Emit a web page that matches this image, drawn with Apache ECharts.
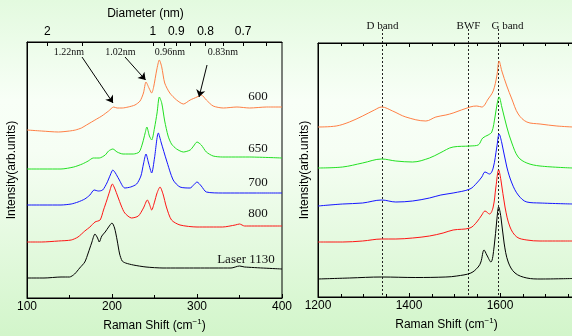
<!DOCTYPE html>
<html>
<head>
<meta charset="utf-8">
<script src="https://cdn.jsdelivr.net/npm/echarts@6/dist/echarts.min.js"></script>
<style>
  html, body { margin: 0; padding: 0; }
  #chart { width: 572px; height: 336px; }
</style>
</head>
<body>
<div id="chart"></div>
<script>
// RBM region (left panel), [raman shift, intensity]
var rbm600 = [[100,168],[117,167],[137,166],[150,167],[157,168],[164,170],[170,173],[176,176],[182,179],[188,182],[196,187],[202,191],[206,190],[212,190],[219,191],[227,193],[233,197],[237,205],[240,216],[243.5,210],[246.7,205],[249,211],[252.6,228],[255.7,238],[258.5,231],[262,215],[268,205],[276,198],[284,194],[292,198],[300,201],[305,203],[311,198],[319,192],[331,190],[347,191],[362,190],[382,191],[400,191]];
var rbm650 = [[100,129],[120,129],[140,129],[155,131],[165,134],[172,137],[178,140],[185,140],[192,143],[196,147],[201,149],[206,146],[213,144],[225,144],[232,146],[236,155],[239,165],[241,171],[244,162],[246.7,158],[250,170],[253,185],[255.7,201],[258.5,195],[262,177],[266,162],[270,154],[276,149],[284,146],[292,148],[296,152],[300,156],[305,153],[311,146],[319,142],[330,141],[360,141],[400,140]];
var rbm700 = [[100,93],[120,93],[140,93],[152,94],[160,96],[168,99],[174,103],[179,108],[184,107],[189,108],[194,115],[198,123],[201,128],[204,125],[208,119],[215,110],[222,111],[229,114],[234,122],[237,134],[240,144],[243,135],[246.7,125],[250,140],[254.5,165],[258,155],[264,138],[272,118],[280,111],[292,110],[296,113],[300,116],[305,112],[311,106],[330,105],[370,105],[400,105]];
var rbm800 = [[100,56],[117,56],[137,57],[152,58],[160,61],[168,67],[174,71],[180,76],[186,78],[190,88],[194,98],[197,106],[200.4,114],[203,110],[207,101],[211,92],[215,85],[223,80],[231,82],[237,90],[241.6,98],[244,94],[246.7,88],[250,96],[253,105],[256.5,111],[260,104],[264,91],[270,78],[280,73],[300,71],[330,71],[345,73],[350,74],[356,72],[400,72]];
var rbm1130 = [[100,20],[120,20],[140,21],[150,21],[156,24],[162,30],[168,36],[172,45],[176,55],[180,64],[183,60],[185,56],[188,62],[192,66],[196,71],[200,75],[203,70],[206,58],[209,44],[212,37],[216,35],[225,33],[240,31],[260,30],[300,30],[340,30],[350,32],[356,31],[400,29]];

// D / G band region (right panel)
var g600 = [[1200,170],[1240,171],[1269,175],[1298,181],[1324,187],[1340,190],[1364,186],[1393,180],[1437,176],[1459,180],[1481,182],[1497,184],[1534,190],[1549,191],[1560,190],[1574,198],[1585,206],[1593,221],[1598,236],[1604,226],[1615,211],[1626,198],[1640,183],[1659,175],[1688,173],[1725,171],[1760,170]];
var g650 = [[1200,129],[1254,130],[1298,134],[1340,138],[1371,136],[1408,135],[1445,139],[1468,144],[1497,150],[1534,151],[1552,152],[1562,159],[1574,162],[1582,165],[1589,180],[1594,194],[1598,200],[1604,190],[1615,170],[1626,154],[1640,140],[1659,134],[1688,131],[1760,129]];
var g700 = [[1200,91],[1254,93],[1298,94],[1340,97],[1371,95],[1408,96],[1445,99],[1470,102],[1497,104],[1534,108],[1549,114],[1560,120],[1567,125],[1577,123],[1585,129],[1593,150],[1598,163],[1604,154],[1615,130],[1626,114],[1640,102],[1659,95],[1688,94],[1760,93]];
var g800 = [[1200,55],[1254,55],[1298,56],[1340,58],[1371,58],[1408,59],[1445,61],[1475,64],[1497,67],[1534,69],[1549,75],[1560,82],[1567,86],[1577,83],[1585,90],[1591,110],[1597,127],[1602,117],[1611,90],[1622,70],[1637,60],[1659,57],[1688,56],[1760,56]];
var g1130 = [[1200,18],[1269,19],[1340,20],[1415,19.5],[1481,20],[1505,21],[1536,24],[1552,30],[1558,35],[1565,47],[1571,42],[1580,35],[1587,50],[1593,77],[1597,90],[1602,80],[1609,54],[1618,35],[1633,24],[1659,19],[1690,18],[1760,18.5]];

var traceNames = ['600', '650', '700', '800', 'Laser 1130'];
var colors = ['#ff7f45', '#22e022', '#1515ff', '#ff1515', '#000000'];

// diameter axis (d = 248 / w)
var diamTicks = [2, 1.5, 1, 0.95, 0.9, 0.85, 0.8, 0.75, 0.7, 0.65];
var diamLabels = [2, 1, 0.9, 0.8, 0.7];
var peakNotes = ['1.22nm', '1.02nm', '0.96nm', '0.83nm'];
var arrows = [[[164.7,241],[201.2,195]], [[215.3,241],[239.5,218]], [[311.8,233],[302.4,201]]];
var bands = [['D band', 1340], ['BWF', 1530], ['G band', 1595]];

var chart = echarts.init(document.getElementById('chart'));

var axisBlack = { lineStyle: { color: '#000', width: 1 } };
var sans = 'Liberation Sans';
var serif = 'Liberation Serif';

function bottomAxis(grid, min, max, interval, split, nameShift) {
  return {
    type: 'value', gridIndex: grid, position: 'bottom', min: min, max: max, interval: interval,
    axisLine: axisBlack,
    axisTick: { inside: true, length: 4, lineStyle: { color: '#000' } },
    minorTick: { show: true, splitNumber: split, length: 3, lineStyle: { color: '#000' } },
    splitLine: { show: false },
    axisLabel: { color: '#000', fontFamily: sans, fontSize: 12, margin: 3,
      formatter: function (v) { return String(v); } },
    name: 'Raman Shift (cm{sup|\u22121})',
    nameLocation: 'middle', nameGap: 19,
    nameTextStyle: {
      color: '#000', fontFamily: sans, fontSize: 12, padding: [0, nameShift, 0, 0],
      rich: { sup: { fontSize: 8, fontFamily: sans, color: '#000', padding: [0, 0, 8, 0] } }
    }
  };
}

var series = [];
[rbm600, rbm650, rbm700, rbm800, rbm1130].forEach(function (d, i) {
  series.push({
    type: 'line', name: traceNames[i], xAxisIndex: 0, yAxisIndex: 0, data: d,
    showSymbol: false, smooth: 0.25, lineStyle: { color: colors[i], width: 1 }
  });
});
[g600, g650, g700, g800, g1130].forEach(function (d, i) {
  series.push({
    type: 'line', name: traceNames[i] + ' G', xAxisIndex: 2, yAxisIndex: 1, data: d,
    showSymbol: false, smooth: 0.35, lineStyle: { color: colors[i], width: 1 }
  });
});
series[0].markLine = {
  silent: true, symbol: ['none', 'arrow'], symbolSize: 7,
  lineStyle: { color: '#000', width: 1, type: 'solid' },
  label: { show: false },
  data: arrows.map(function (a) { return [{ coord: a[0] }, { coord: a[1] }]; })
};

chart.setOption({
  animation: false,
  backgroundColor: {
    type: 'linear', x: 0, y: 0, x2: 0, y2: 1,
    colorStops: [
      { offset: 0, color: '#e3fadf' },
      { offset: 0.3, color: '#f8fff7' },
      { offset: 0.45, color: '#f6fef4' },
      { offset: 1, color: '#d2f5ca' }
    ]
  },
  grid: [
    { left: 27, top: 42, width: 255, height: 256, outerBoundsMode: 'none', containLabel: false,
      show: true, borderColor: '#000', borderWidth: 1, backgroundColor: 'transparent' },
    { left: 318, top: 43, width: 273, height: 254, outerBoundsMode: 'none', containLabel: false,
      show: true, borderColor: '#000', borderWidth: 1, backgroundColor: 'transparent' }
  ],
  xAxis: [
    bottomAxis(0, 100, 400, 100, 2, 0),
    {
      type: 'value', gridIndex: 0, position: 'top', min: 100, max: 400,
      axisLine: axisBlack,
      axisTick: { inside: true, length: 4, lineStyle: { color: '#000' },
        customValues: diamTicks.map(function (d) { return 248 / d; }) },
      axisLabel: { color: '#000', fontFamily: sans, fontSize: 12, margin: 4,
        customValues: diamLabels.map(function (d) { return 248 / d; }),
        formatter: function (v) { return String(+(248 / v).toFixed(2)); } },
      splitLine: { show: false },
      name: 'Diameter (nm)', nameLocation: 'middle', nameGap: 22,
      nameTextStyle: { color: '#000', fontFamily: sans, fontSize: 12, padding: [0, 18, 0, 0] }
    },
    bottomAxis(1, 1200, 1800, 200, 4, 16),
    {
      type: 'value', gridIndex: 1, position: 'top', min: 1200, max: 1800, interval: 200,
      axisLine: axisBlack,
      axisTick: { inside: true, length: 4, lineStyle: { color: '#000' } },
      minorTick: { show: true, splitNumber: 4, length: 3, lineStyle: { color: '#000' } },
      axisLabel: { show: false }, splitLine: { show: false }
    }
  ],
  yAxis: [0, 1].map(function (g) {
    return {
      type: 'value', gridIndex: g, min: 0, max: g === 0 ? 256 : 254,
      axisLine: { show: true, lineStyle: { color: '#000', width: 1 } },
      axisTick: { show: false }, axisLabel: { show: false }, splitLine: { show: false },
      name: 'Intensity(arb.units)', nameLocation: 'middle', nameGap: g === 0 ? 9 : 7,
      nameTextStyle: { color: '#000', fontFamily: sans, fontSize: 12 }
    };
  }),
  series: series
});

// annotations placed through the axes
var gfx = [];
var noteAt = [[69, 52], [120.5, 52], [170, 52], [223, 52]];
peakNotes.forEach(function (t, i) {
  gfx.push({ type: 'text', x: noteAt[i][0], y: noteAt[i][1], silent: true,
    style: { text: t, font: '10px "' + serif + '"', fill: '#111', align: 'center', verticalAlign: 'middle' } });
});
var traceAt = [[258, 97], [258, 149], [258, 183], [258, 214], [246, 260]];
traceNames.forEach(function (t, i) {
  gfx.push({ type: 'text', x: traceAt[i][0], y: traceAt[i][1], silent: true,
    style: { text: t, font: '13px "' + serif + '"', fill: '#111', align: 'center', verticalAlign: 'middle' } });
});
var bandShift = [0, 0, 9];
bands.forEach(function (b, i) {
  var x = Math.round(chart.convertToPixel({ xAxisIndex: 2 }, b[1])) + 0.5;
  var yb = chart.convertToPixel({ yAxisIndex: 1 }, 0);
  gfx.push({ type: 'line', silent: true, shape: { x1: x, y1: 29, x2: x, y2: yb },
    style: { stroke: '#222', lineWidth: 1, lineDash: [2, 2] } });
  gfx.push({ type: 'text', x: x + bandShift[i], y: 26, silent: true,
    style: { text: b[0], font: '11px "' + serif + '"', fill: '#111', align: 'center', verticalAlign: 'middle' } });
});
chart.setOption({ graphic: gfx });
</script>
</body>
</html>
